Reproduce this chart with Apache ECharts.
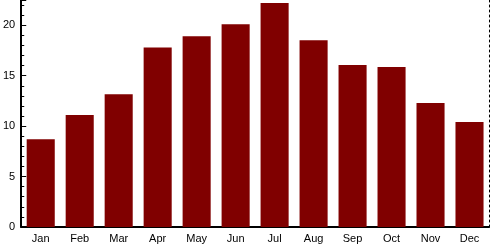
<!DOCTYPE html>
<html><head><meta charset="utf-8">
<script src="https://cdn.jsdelivr.net/npm/echarts@6/dist/echarts.min.js"></script>
<style>html,body{margin:0;padding:0;background:#fff}#c{width:493px;height:249px}</style>
</head><body><div id="c"></div>
<script>
const months = ['Jan','Feb','Mar','Apr','May','Jun','Jul','Aug','Sep','Oct','Nov','Dec'];
const values = [8.7, 11.1, 13.15, 17.8, 18.9, 20.1, 22.2, 18.5, 16.05, 15.85, 12.3, 10.4];
const yTicks = [0, 5, 10, 15, 20];

const chart = echarts.init(document.getElementById('c'));
chart.setOption({
  animation: false,
  grid: {left: 20, right: 4, top: 0, bottom: 22, containLabel: false},
  xAxis: {
    type: 'category', data: months,
    axisLine: {lineStyle: {color: '#000', width: 2}},
    axisTick: {inside: true, length: 5, lineStyle: {color: '#000', width: 1}},
    axisLabel: {color: '#000', fontFamily: 'Liberation Sans, Arial', fontSize: 11, margin: 6}
  },
  yAxis: [{
    type: 'value', min: 0, max: 22.5, interval: 5,
    axisLine: {show: true, lineStyle: {color: '#000', width: 2}},
    axisTick: {show: true, inside: true, length: 5, lineStyle: {color: '#000'}},
    minorTick: {show: true, splitNumber: 5, length: 3, lineStyle: {color: '#000'}},
    splitLine: {show: false},
    axisLabel: {color: '#000', fontFamily: 'Liberation Sans, Arial', fontSize: 11, margin: 6,
      formatter: v => yTicks.includes(v) ? String(v) : ''}
  }, {
    type: 'value', min: 0, max: 22.5, interval: 5, position: 'right',
    axisLine: {show: true, lineStyle: {color: '#000', width: 1, type: [2, 3]}},
    axisTick: {show: false}, axisLabel: {show: false}, splitLine: {show: false}
  }],
  series: [{
    type: 'bar', data: values, yAxisIndex: 0,
    barCategoryGap: '28%',
    itemStyle: {color: '#800000'}
  }]
});
</script></body></html>
